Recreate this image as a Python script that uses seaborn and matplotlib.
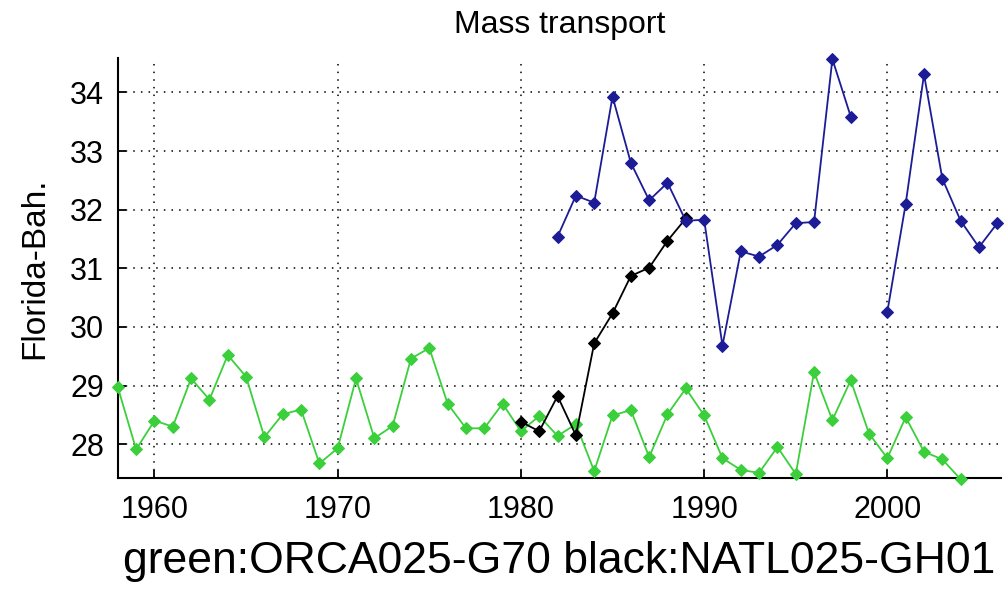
import numpy as np
import pandas as pd
import matplotlib
matplotlib.use("Agg")
import matplotlib.pyplot as plt
import seaborn as sns

# yearly values
green_years = list(range(1958, 2005))
green_vals = [28.97, 27.91, 28.40, 28.30, 29.12, 28.76, 29.52, 29.15, 28.12, 28.51,
              28.59, 27.67, 27.93, 29.12, 28.10, 28.31, 29.46, 29.64, 28.69, 28.27,
              28.27, 28.69, 28.22, 28.48, 28.14, 28.34, 27.54, 28.49, 28.58, 27.78,
              28.51, 28.95, 28.49, 27.76, 27.56, 27.51, 27.95, 27.49, 29.23, 28.41,
              29.09, 28.18, 27.76, 28.46, 27.87, 27.74, 27.40]

black_years = list(range(1980, 1990))
black_vals = [28.38, 28.22, 28.82, 28.15, 29.72, 30.23, 30.87, 31.01, 31.47, 31.85]

blue_years = list(range(1982, 2007))
blue_vals = [31.54, 32.24, 32.12, 33.93, 32.80, 32.16, 32.46, 31.81, 31.83, 29.68,
             31.29, 31.20, 31.40, 31.77, 31.79, 34.57, 33.59, np.nan, 30.26, 32.10,
             34.31, 32.53, 31.81, 31.36, 31.77]

x_ticks = [1960, 1970, 1980, 1990, 2000]
y_ticks = [28, 29, 30, 31, 32, 33, 34]

sns.set_theme(style="white")
plt.rcParams['font.family'] = ['Liberation Sans', 'DejaVu Sans']
plt.rcParams['text.color'] = 'black'
plt.rcParams['axes.labelcolor'] = 'black'

fig = plt.figure(figsize=(10.07, 5.91), dpi=100)
ax = fig.add_axes([0.117, 0.191, 0.877, 0.711])


def draw(years, vals, color):
    df = pd.DataFrame({"year": years, "value": vals})
    # split on gaps so missing years break the line
    df["seg"] = df["value"].isna().cumsum()
    df = df.dropna()
    for _, part in df.groupby("seg"):
        sns.lineplot(data=part, x="year", y="value", ax=ax, color=color,
                     marker="D", markersize=6, markeredgecolor=color,
                     linewidth=1.3, clip_on=False, zorder=3)


draw(green_years, green_vals, "#3ccf3c")
draw(black_years, black_vals, "black")
draw(blue_years, blue_vals, "#1c1c96")

ax.set_xlim(1958, 2006.2)
ax.set_ylim(27.42, 34.59)
ax.set_xticks(x_ticks)
ax.set_yticks(y_ticks)
ax.grid(True, color="black", linestyle=(0, (1, 4)), linewidth=1.1)
ax.tick_params(axis="both", direction="in", length=6, width=1.3, colors="black",
               labelcolor="black", labelsize=22, bottom=True, left=True)
ax.tick_params(axis="x", pad=12)
ax.tick_params(axis="y", pad=10)
for side in ["top", "right"]:
    ax.spines[side].set_visible(False)
for side in ["left", "bottom"]:
    ax.spines[side].set_color("black")
    ax.spines[side].set_linewidth(1.5)

ax.set_title("Mass transport", fontsize=23, pad=18, color="black")
ax.set_ylabel("Florida-Bah.", fontsize=24, labelpad=14)
ax.set_xlabel("green:ORCA025-G70 black:NATL025-GH01", fontsize=32, labelpad=12)

fig.savefig("out.png", dpi=100)
